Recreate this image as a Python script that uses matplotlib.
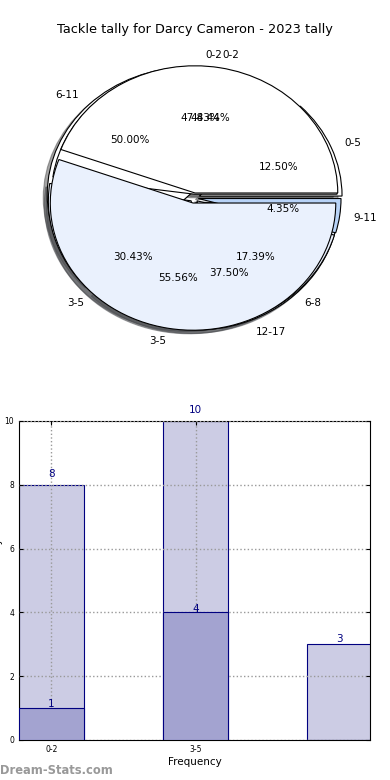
import matplotlib
matplotlib.use("Agg")
import matplotlib.pyplot as plt

# ---- data ----
title = "Tackle tally for Darcy Cameron - 2023 tally"

pieA_labels = ["0-2", "3-5", "6-8", "9-11"]
pieA_values = [11, 7, 4, 1]
pieB_labels = ["0-2", "3-5"]
pieB_values = [4, 5]
pieC_labels = ["0-5", "6-11", "12-17"]
pieC_values = [1, 4, 3]

bar_cats = ["0-2", "3-5", ""]
bar_light = [8, 10, 3]
bar_dark = [1, 4, 0]

WHITE = "#ffffff"
LIGHT = "#eaf1fd"
MED = "#b8d3f7"

fig = plt.figure(figsize=(3.9, 7.8), dpi=100)
fig.suptitle(title, y=0.97, fontsize=9.3)

# ---- pie ----
axp = fig.add_axes([0.040, 0.5423, 0.915, 0.4077])
wp = dict(edgecolor="black", linewidth=0.8)
axp.pie(pieC_values, labels=pieC_labels, autopct="%.2f%%", explode=[0.04] * 3,
        colors=[WHITE, WHITE, LIGHT], shadow=True, wedgeprops=wp,
        textprops=dict(fontsize=7.5))
axp.pie(pieA_values, labels=pieA_labels, autopct="%.2f%%", explode=[0.03] * 4,
        colors=[WHITE, LIGHT, LIGHT, MED], shadow=True, wedgeprops=wp,
        textprops=dict(fontsize=7.5))
axp.pie(pieB_values, labels=pieB_labels, autopct="%.2f%%", explode=[0.04] * 2,
        colors=[WHITE, LIGHT], shadow=True, wedgeprops=wp,
        textprops=dict(fontsize=7.5))
axp.set_aspect("auto")
axp.set_xlim(-1.25, 1.25)
axp.set_ylim(-1.25, 1.25)
axp.axis("off")

# ---- bars ----
axb = fig.add_axes([0.0487, 0.0513, 0.9, 0.409])
x = list(range(len(bar_cats)))
w = 0.45
navy = "#000080"
axb.bar(x, bar_light, width=w, color="#ccccE4", edgecolor=navy, linewidth=0.8, zorder=2)
axb.bar(x[:2], bar_dark[:2], width=w, color="#a3a3d0", edgecolor=navy, linewidth=0.8, zorder=3)
for i, v in enumerate(bar_light):
    off = 4 if i < 2 else 0
    axb.annotate(str(v), (x[i], v), xytext=(0, off), textcoords="offset points",
                 ha="center", va="bottom", fontsize=7.5, color=navy, annotation_clip=False,
                 zorder=6)
for i, v in enumerate(bar_dark[:2]):
    axb.annotate(str(v), (x[i], v), xytext=(0, -1), textcoords="offset points",
                 ha="center", va="bottom", fontsize=7.5, color=navy, zorder=6)
axb.set_xlim(-0.225, 2.21)
axb.set_ylim(0, 10)
axb.set_xticks([0, 1])
axb.set_xticklabels(bar_cats[:2], fontsize=5.5)
axb.set_yticks(range(0, 11, 2))
axb.tick_params(axis="y", labelsize=5.5)
axb.tick_params(direction="in", length=3, right=True, top=True)
axb.set_axisbelow(False)
axb.grid(True, linestyle=":", color="#999999", linewidth=1, zorder=5)
axb.set_xlabel("Frequency", fontsize=7.5, labelpad=2)
axb.set_ylabel("Last match tally", fontsize=7.5)
axb.yaxis.set_label_coords(-0.045, 0.5)

fig.text(0.0, 0.004, "Dream-Stats.com", fontsize=8.3, color="#999999", fontweight="bold",
         ha="left", va="bottom")

fig.savefig("out.png", dpi=100)
